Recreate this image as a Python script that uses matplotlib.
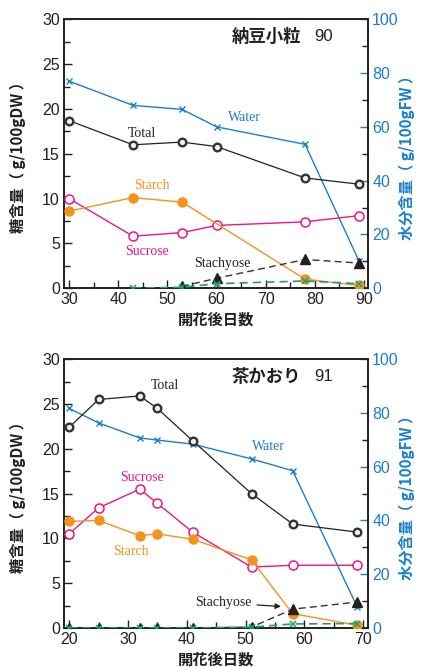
import numpy as np
import matplotlib
matplotlib.use('Agg')
import matplotlib.pyplot as plt
from matplotlib.ticker import MultipleLocator

# 納豆小粒 (panel 1)
days1 = [30, 43, 53, 60, 78, 89]
total1 = [18.7, 16.0, 16.3, 15.8, 12.3, 11.6]
starch1_days = [30, 43, 53, 78, 89]
starch1 = [8.6, 10.1, 9.6, 1.0, 0.3]
sucrose1 = [10.0, 5.8, 6.2, 7.0, 7.4, 8.1]
water1 = [77.0, 68.0, 66.5, 60.0, 53.5, 10.0]
stachyose1_days = [53, 60, 78, 89]
stachyose1 = [0.2, 1.1, 3.2, 2.8]
raffinose1_days = [43, 53, 60, 78, 89]
raffinose1 = [0.0, 0.1, 0.5, 0.8, 0.5]

# 茶かおり (panel 2)
days2 = [20, 25, 32, 35, 41, 51, 58, 69]
total2 = [22.4, 25.5, 25.9, 24.5, 20.9, 15.0, 11.6, 10.7]
starch2 = [11.9, 12.0, 10.3, 10.5, 9.9, 7.6, 1.6, 0.3]
sucrose2 = [10.5, 13.4, 15.5, 13.9, 10.7, 6.8, 7.0, 7.0]
water2 = [81.7, 76.3, 70.7, 69.9, 68.4, 62.9, 58.5, 7.7]
stachyose2 = [0.0, 0.0, 0.0, 0.0, 0.0, 0.1, 2.1, 2.9]
raffinose2 = [0.0, 0.0, 0.0, 0.0, 0.0, 0.1, 0.45, 0.5]

BLUE = '#1b7fcc'
ORANGE = '#f5921e'
MAGENTA = '#e8168b'
GREEN = '#1aa071'
BLACK = '#231f20'

JP = ['Noto Sans CJK JP', 'DejaVu Sans']
SERIF = 'Liberation Serif'
plt.rcParams['font.family'] = ['Liberation Sans', 'DejaVu Sans']

fig = plt.figure(figsize=(4.22, 6.67), dpi=100)


def setup_axes(ax, xlim, xticks):
    ax2 = ax.twinx()
    ax.set_xlim(*xlim)
    ax.set_ylim(0, 30)
    ax2.set_ylim(0, 100)
    ax.set_xticks(xticks)
    ax.xaxis.set_minor_locator(MultipleLocator(5))
    ax.yaxis.set_major_locator(MultipleLocator(5))
    ax.yaxis.set_minor_locator(MultipleLocator(2.5))
    ax2.yaxis.set_major_locator(MultipleLocator(20))
    ax2.yaxis.set_minor_locator(MultipleLocator(10))
    ax.tick_params(which='both', direction='in', labelsize=11.5, colors=BLACK,
                   top=False, right=False, pad=3)
    ax.tick_params(which='major', length=6, width=1)
    ax.tick_params(which='minor', length=4, width=1)
    ax2.tick_params(which='both', direction='in', labelsize=11.5, width=1, pad=3)
    ax2.tick_params(which='major', length=6, colors=BLUE, labelcolor=BLUE)
    ax2.tick_params(which='minor', length=4, colors=BLACK)
    for a in (ax, ax2):
        for s in a.spines.values():
            s.set_color(BLACK)
            s.set_linewidth(1.2)
    ax.set_ylabel('糖含量（ g/100gDW ）', family=JP, fontweight='bold',
                  fontsize=11, color=BLACK)
    ax2.set_ylabel('水分含量（ g/100gFW ）', family=JP, fontweight='bold',
                   fontsize=11, color=BLUE)
    ax.yaxis.set_label_coords(-0.125, 0.5)
    ax2.yaxis.set_label_coords(1.10, 0.5)
    ax.set_xlabel('開花後日数', family=JP, fontweight='bold', fontsize=11,
                  color=BLACK, labelpad=3)
    return ax2


def draw_common(ax, ax2, days, total, sucrose, water):
    ax2.plot(days, water, color=BLUE, lw=1, marker='x', ms=4, mew=1, zorder=3)
    ax.plot(days, total, color=BLACK, lw=0.9, marker='o', ms=5.5, mfc='#f0f0f0',
            mec='#333333', mew=1.7, zorder=4)
    ax.plot(days, sucrose, color=MAGENTA, lw=1, marker='o', ms=6.5, mfc='white',
            mec=MAGENTA, mew=1.1, zorder=4)


ax1 = fig.add_axes([0.152, 0.568, 0.720, 0.403])
ax1r = setup_axes(ax1, (29.0, 90.8), [30, 40, 50, 60, 70, 80, 90])
ax1.set_zorder(ax1r.get_zorder() + 1)
ax1.patch.set_visible(False)
draw_common(ax1, ax1r, days1, total1, sucrose1, water1)
ax1.plot(starch1_days, starch1, color=ORANGE, lw=1, marker='o', ms=6.5,
         mfc=ORANGE, mec=ORANGE, zorder=4)
ax1.plot(stachyose1_days, stachyose1, color='#333333', lw=1, ls=(0, (5, 3)),
         marker='^', ms=6.5, mfc=BLACK, mec=BLACK, zorder=5)
ax1.plot(raffinose1_days, raffinose1, color=GREEN, lw=1.2, ls=(0, (5, 3)),
         marker='x', ms=4.5, mew=1.1, zorder=6)
ax1.text(44.8, 17.3, 'Total', family=SERIF, fontsize=10, color=BLACK,
         ha='center', va='center')
ax1.text(65.6, 19.1, 'Water', family=SERIF, fontsize=10, color=BLUE,
         ha='center', va='center')
ax1.text(46.9, 11.4, 'Starch', family=SERIF, fontsize=10, color=ORANGE,
         ha='center', va='center')
ax1.text(45.9, 4.1, 'Sucrose', family=SERIF, fontsize=10, color=MAGENTA,
         ha='center', va='center')
ax1.text(61.1, 2.7, 'Stachyose', family=SERIF, fontsize=10, color=BLACK,
         ha='center', va='center')
ax1.text(0.78, 0.935, '納豆小粒', transform=ax1.transAxes, family=JP,
         fontweight='bold', fontsize=12.5, color=BLACK, ha='right', va='center')
ax1.text(0.823, 0.935, '90', transform=ax1.transAxes, fontsize=12,
         color=BLACK, ha='left', va='center')

ax2 = fig.add_axes([0.152, 0.0585, 0.720, 0.403])
ax2r = setup_axes(ax2, (19.15, 70.8), [20, 30, 40, 50, 60, 70])
ax2.set_zorder(ax2r.get_zorder() + 1)
ax2.patch.set_visible(False)
draw_common(ax2, ax2r, days2, total2, sucrose2, water2)
ax2.plot(days2, starch2, color=ORANGE, lw=1, marker='o', ms=6.5,
         mfc=ORANGE, mec=ORANGE, zorder=4)
ax2.plot(days2, stachyose2, color='#333333', lw=1, ls=(0, (5, 3)),
         marker='^', ms=6.5, mfc=BLACK, mec=BLACK, zorder=5)
ax2.plot(days2, raffinose2, color=GREEN, lw=1.2, ls=(0, (5, 3)),
         marker='x', ms=4.5, mew=1.1, zorder=6)
ax2.text(36.2, 27.1, 'Total', family=SERIF, fontsize=10, color=BLACK,
         ha='center', va='center')
ax2.text(32.4, 16.8, 'Sucrose', family=SERIF, fontsize=10, color=MAGENTA,
         ha='center', va='center')
ax2.text(53.8, 20.3, 'Water', family=SERIF, fontsize=10, color=BLUE,
         ha='center', va='center')
ax2.text(30.5, 8.5, 'Starch', family=SERIF, fontsize=10, color=ORANGE,
         ha='center', va='center')
ax2.annotate('Stachyose', xy=(56.0, 2.4), xytext=(46.2, 2.8),
             family=SERIF, fontsize=10, color=BLACK, ha='center', va='center',
             arrowprops=dict(arrowstyle='-|>', color=BLACK, lw=0.9,
                             mutation_scale=8, shrinkA=2, shrinkB=0))
ax2.text(0.78, 0.935, '茶かおり', transform=ax2.transAxes, family=JP,
         fontweight='bold', fontsize=12.5, color=BLACK, ha='right', va='center')
ax2.text(0.823, 0.935, '91', transform=ax2.transAxes, fontsize=12,
         color=BLACK, ha='left', va='center')

fig.savefig('out.png', dpi=100)
